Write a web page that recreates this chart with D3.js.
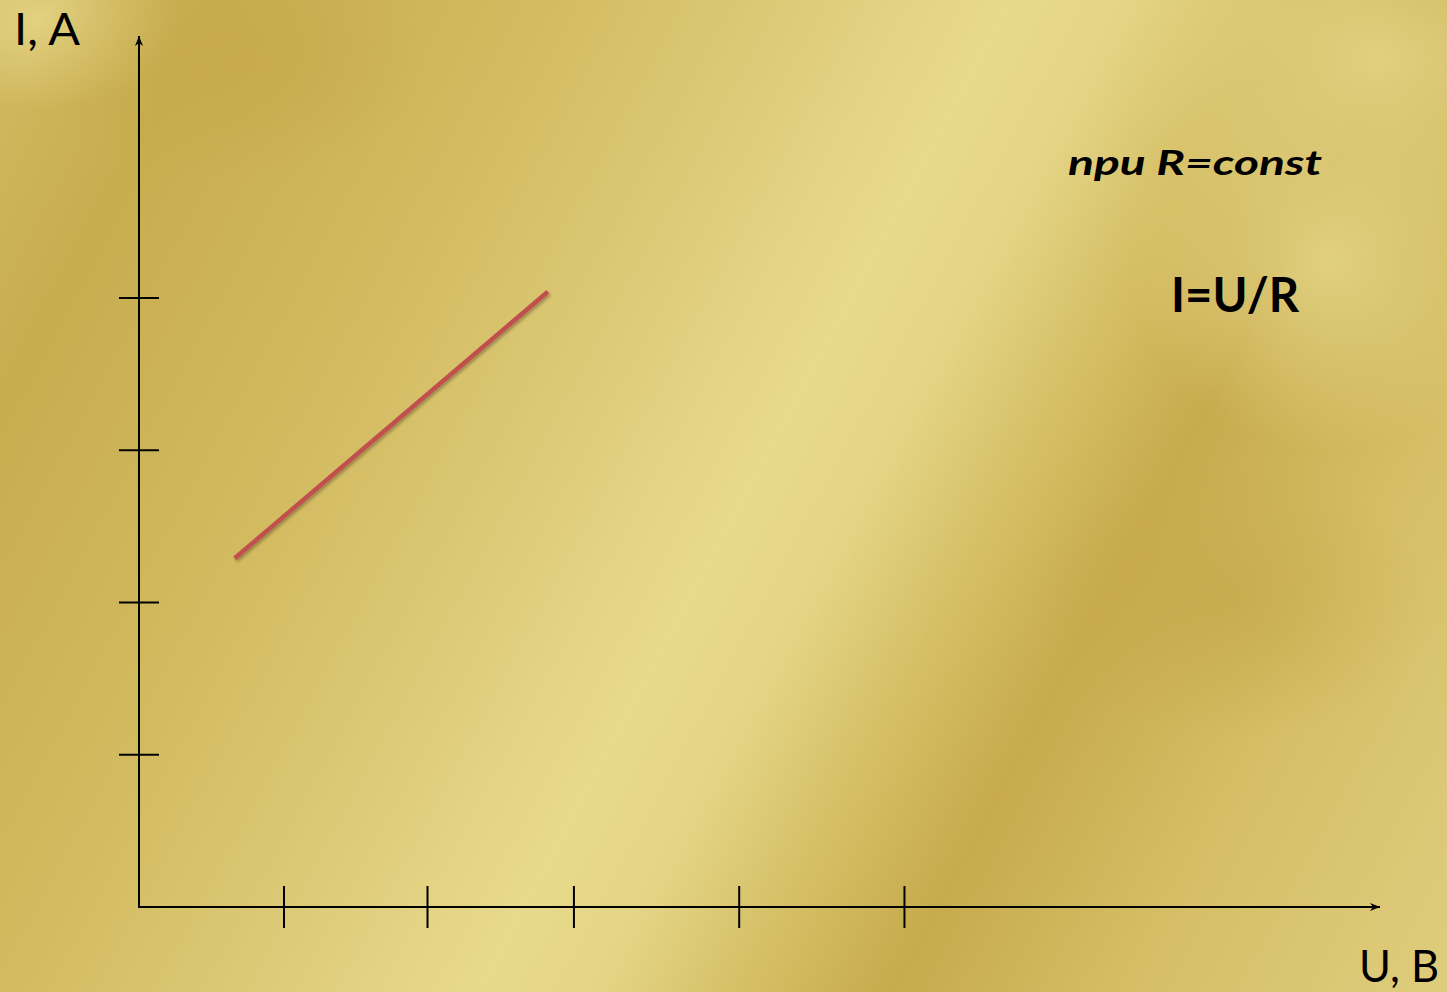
<!DOCTYPE html>
<html>
<head>
<meta charset="utf-8">
<script src="https://cdn.jsdelivr.net/npm/d3@7"></script>
<style>
  html, body { margin: 0; padding: 0; overflow: hidden; }
  svg { display: block; }
</style>
</head>
<body>
<div id="chart"></div>
<script>
// values (U in tick units, I in tick units)
const xTicks = [1, 1.99, 3, 4.14, 5.28];
const yTicks = [1, 2, 3, 4];
const lineU = [0.66, 2.82];
const lineI = [2.29, 4.04];
const xLabel = "U, B";
const yLabel = "I, A";
const noteText = "при R=const";
const formulaText = "I=U/R";

let width = 1447;
let height = 992;

var svg = d3.select("#chart")
  .append("svg")
  .attr("width", width)
  .attr("height", height);

var defs = svg.append("defs");

// golden background: diagonal bands running from lower left to upper right
var bg = defs.append("linearGradient")
  .attr("id", "gold")
  .attr("gradientUnits", "userSpaceOnUse")
  .attr("x1", 0).attr("y1", 0)
  .attr("x2", 1536).attr("y2", 825);
[["0%", "#d2ba62"], ["11%", "#c8ad4f"], ["28%", "#d3bb61"], ["42%", "#dfcd7c"],
 ["51%", "#e8da8b"], ["57%", "#e4d585"], ["65%", "#d4bd63"], ["72%", "#c7ab4d"],
 ["84%", "#d5be66"], ["100%", "#dfcd7d"]]
  .forEach(s => bg.append("stop").attr("offset", s[0]).attr("stop-color", s[1]));

var light = defs.append("radialGradient").attr("id", "light");
light.append("stop").attr("offset", "0%").attr("stop-color", "#e4d485").attr("stop-opacity", 0.9);
light.append("stop").attr("offset", "100%").attr("stop-color", "#e4d485").attr("stop-opacity", 0);

var shade = defs.append("radialGradient").attr("id", "shade");
shade.append("stop").attr("offset", "0%").attr("stop-color", "#c4a748").attr("stop-opacity", 0.6);
shade.append("stop").attr("offset", "100%").attr("stop-color", "#c4a748").attr("stop-opacity", 0);

svg.append("rect").attr("width", width).attr("height", height).attr("fill", "url(#gold)");
svg.append("ellipse").attr("cx", 1380).attr("cy", 60).attr("rx", 260).attr("ry", 200).attr("fill", "url(#light)");
svg.append("ellipse").attr("cx", 1330).attr("cy", 260).attr("rx", 200).attr("ry", 190).attr("fill", "url(#light)");
svg.append("ellipse").attr("cx", 40).attr("cy", 20).attr("rx", 140).attr("ry", 90).attr("fill", "url(#light)");
svg.append("ellipse").attr("cx", 230).attr("cy", 60).attr("rx", 200).attr("ry", 120).attr("fill", "url(#shade)");
svg.append("ellipse").attr("cx", 1230).attr("cy", 600).attr("rx", 200).attr("ry", 140).attr("fill", "url(#shade)");

// scales
var x = d3.scaleLinear().domain([0, 8.56]).range([139, 1380]);
var y = d3.scaleLinear().domain([0, 5.72]).range([907, 36]);

defs.append("marker")
  .attr("id", "arrow")
  .attr("viewBox", "0 0 10 10")
  .attr("refX", 10).attr("refY", 5)
  .attr("markerWidth", 10).attr("markerHeight", 10)
  .attr("markerUnits", "userSpaceOnUse")
  .attr("orient", "auto")
  .append("path")
  .attr("d", "M0,1 L10,5 L0,9 L3,5 Z")
  .attr("fill", "black");

// axes
svg.append("line")
  .attr("x1", x(0)).attr("y1", y(0))
  .attr("x2", x(8.56)).attr("y2", y(0))
  .attr("stroke", "black").attr("stroke-width", 2)
  .attr("marker-end", "url(#arrow)");

svg.append("line")
  .attr("x1", x(0)).attr("y1", y(0) + 1)
  .attr("x2", x(0)).attr("y2", y(5.72))
  .attr("stroke", "black").attr("stroke-width", 2)
  .attr("marker-end", "url(#arrow)");

svg.selectAll(".xtick")
  .data(xTicks)
  .join("line")
  .attr("class", "xtick")
  .attr("x1", d => x(d)).attr("x2", d => x(d))
  .attr("y1", y(0) - 21).attr("y2", y(0) + 21)
  .attr("stroke", "black").attr("stroke-width", 2);

svg.selectAll(".ytick")
  .data(yTicks)
  .join("line")
  .attr("class", "ytick")
  .attr("x1", x(0) - 20).attr("x2", x(0) + 20)
  .attr("y1", d => y(d)).attr("y2", d => y(d))
  .attr("stroke", "black").attr("stroke-width", 2);

// red I(U) line
defs.append("filter").attr("id", "shadow")
  .append("feDropShadow")
  .attr("dx", 1.5).attr("dy", 2).attr("stdDeviation", 1.5)
  .attr("flood-color", "#000").attr("flood-opacity", 0.3);

var lineData = lineU.map((u, i) => [u, lineI[i]]);
svg.append("path")
  .datum(lineData)
  .attr("d", d3.line().x(d => x(d[0])).y(d => y(d[1])))
  .attr("fill", "none")
  .attr("stroke", "#c0504d")
  .attr("stroke-width", 4.5)
  .attr("filter", "url(#shadow)");

// labels
svg.append("text")
  .attr("x", 14).attr("y", 45)
  .style("font-family", "Lato, 'Open Sans', sans-serif")
  .style("font-weight", 400)
  .style("font-size", "45px")
  .attr("textLength", 66)
  .attr("lengthAdjust", "spacingAndGlyphs")
  .text(yLabel);

svg.append("text")
  .attr("x", 1359).attr("y", 982)
  .style("font-family", "Lato, 'Open Sans', sans-serif")
  .style("font-weight", 400)
  .style("font-size", "44px")
  .attr("textLength", 80)
  .attr("lengthAdjust", "spacingAndGlyphs")
  .text(xLabel);

svg.append("text")
  .attr("x", 1068).attr("y", 175)
  .style("font-family", "Lato, 'Open Sans', sans-serif")
  .style("font-weight", 700)
  .style("font-style", "italic")
  .style("font-size", "35px")
  .attr("textLength", 254)
  .attr("lengthAdjust", "spacingAndGlyphs")
  .text(noteText);

svg.append("text")
  .attr("x", 1171).attr("y", 312)
  .style("font-family", "Lato, 'Open Sans', sans-serif")
  .style("font-weight", 700)
  .style("font-size", "47px")
  .attr("textLength", 128)
  .attr("lengthAdjust", "spacingAndGlyphs")
  .text(formulaText);
</script>
</body>
</html>
